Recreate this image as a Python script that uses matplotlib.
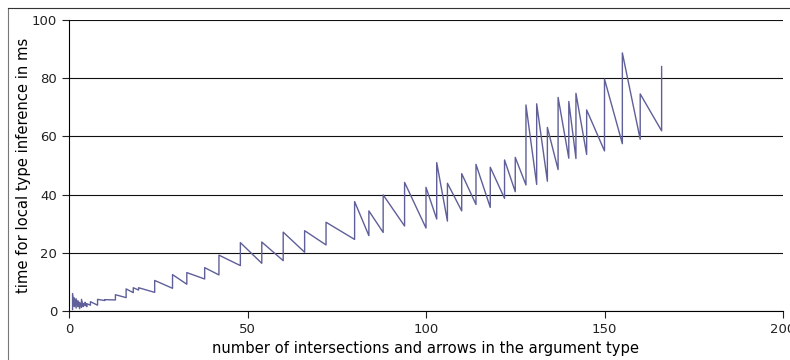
import matplotlib
matplotlib.use("Agg")
import matplotlib.pyplot as plt
from matplotlib.lines import Line2D

# size of argument type -> (fastest, slowest) inference time in ms
sizes = [1, 1.5, 2, 2.5, 3, 3.5, 4, 4.5, 5, 6, 8, 10, 13,
         16, 18, 19.5, 24, 29, 33, 38, 42, 48, 54, 60, 66, 72, 80, 84, 88,
         94, 100, 103, 106, 110, 114, 118, 122, 125, 128, 131, 134, 137,
         140, 142, 145, 150, 155, 160, 166]
t_low = [0.5, 1.5, 1.0, 1.5, 0.8, 1.2, 1.5, 1.8, 1.5, 2.0, 2.0, 3.6, 3.8,
         4.6, 6.3, 7.2, 6.4, 7.8, 9.2, 11.0, 12.4, 15.6, 16.4, 17.3, 20.2, 22.7, 24.6, 25.9, 27.0,
         29.2, 28.5, 31.6, 30.9, 34.4, 36.6, 35.6, 38.7, 41.0, 43.3, 43.5, 44.6, 48.6,
         52.5, 52.4, 53.8, 55.0, 57.5, 59.0, 61.9]
t_high = [6.0, 4.5, 4.2, 3.5, 3.0, 4.0, 2.5, 3.0, 2.5, 3.2, 4.0, 3.9, 5.6,
          7.6, 8.0, 8.0, 10.5, 12.5, 13.2, 14.9, 19.2, 23.5, 23.7, 27.1, 27.6, 30.5, 37.6, 34.4, 39.9,
          44.2, 42.5, 51.0, 43.9, 47.2, 50.4, 49.4, 51.9, 52.8, 70.8, 71.2, 63.1, 73.4,
          72.0, 74.8, 69.1, 79.7, 88.7, 74.6, 84.0]

xs = []
ys = []
for s, lo, hi in zip(sizes, t_low, t_high):
    xs += [s, s]
    ys += [lo, hi]

fig = plt.figure(figsize=(7.9, 3.6), dpi=100)
ax = fig.add_axes([69 / 790, 1 - 311 / 360, 714 / 790, 291 / 360])

ax.plot(xs, ys, color="#5f5f99", lw=1.0, zorder=3)

ax.set_xlim(0, 200)
ax.set_ylim(0, 100)
ax.set_xticks([0, 50, 100, 150, 200])
ax.set_yticks([0, 20, 40, 60, 80, 100])
ax.yaxis.grid(True, color="#111111", lw=0.8)
ax.set_axisbelow(True)
ax.spines["top"].set_visible(False)
ax.spines["right"].set_visible(False)
ax.spines["left"].set_linewidth(0.8)
ax.spines["bottom"].set_linewidth(0.8)
ax.tick_params(labelsize=9.5, length=5, width=0.8, colors="#222222")

ax.set_xlabel("number of intersections and arrows in the argument type", fontsize=10.6, labelpad=4)
ax.set_ylabel("time for local type inference in ms", fontsize=10.6, labelpad=1)

# outer frame of the figure (left and top edges)
fig.add_artist(Line2D([7.5 / 790, 7.5 / 790], [0, 1 - 7.5 / 360], transform=fig.transFigure, color="#777777", lw=0.8))
fig.add_artist(Line2D([7.5 / 790, 1], [1 - 7.5 / 360, 1 - 7.5 / 360], transform=fig.transFigure, color="#333333", lw=0.8))

fig.savefig("out.png", dpi=100)
